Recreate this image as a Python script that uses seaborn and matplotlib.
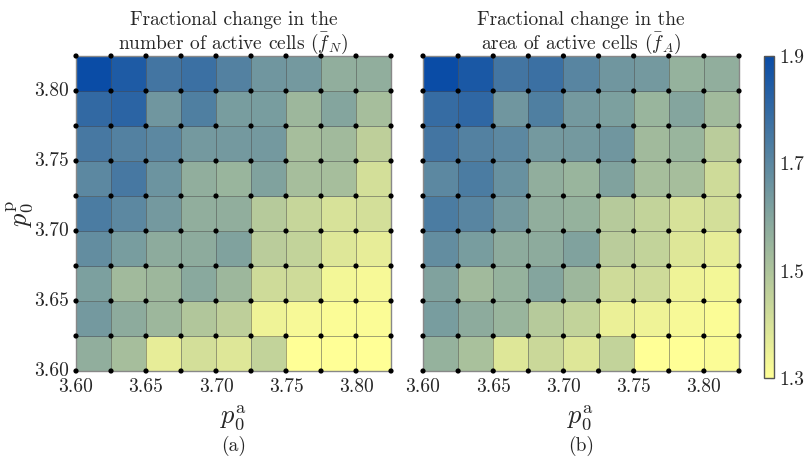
import numpy as np
import pandas as pd
import matplotlib
matplotlib.use("Agg")
import matplotlib.pyplot as plt
from matplotlib.colors import LinearSegmentedColormap
import seaborn as sns

# Parameter grid: cell edges along p0^a (x) and p0^p (y)
pa_edges = [3.600, 3.625, 3.650, 3.675, 3.700, 3.725, 3.750, 3.775, 3.800, 3.825]
pp_edges = [3.600, 3.625, 3.650, 3.675, 3.700, 3.725, 3.750, 3.775, 3.800, 3.825]
tick_values = [3.60, 3.65, 3.70, 3.75, 3.80]
tick_labels = ["3.60", "3.65", "3.70", "3.75", "3.80"]

# Fractional change in the number of active cells; rows run from p0^p = 3.60 upward
f_N = [
    [1.57, 1.52, 1.36, 1.41, 1.38, 1.45, 1.30, 1.30, 1.30],
    [1.64, 1.58, 1.54, 1.49, 1.46, 1.34, 1.32, 1.31, 1.31],
    [1.62, 1.53, 1.54, 1.59, 1.54, 1.42, 1.42, 1.33, 1.32],
    [1.68, 1.63, 1.58, 1.58, 1.61, 1.47, 1.45, 1.38, 1.36],
    [1.74, 1.70, 1.64, 1.57, 1.57, 1.48, 1.44, 1.40, 1.41],
    [1.70, 1.75, 1.66, 1.57, 1.55, 1.61, 1.52, 1.52, 1.41],
    [1.75, 1.72, 1.70, 1.64, 1.64, 1.64, 1.52, 1.53, 1.46],
    [1.80, 1.82, 1.65, 1.73, 1.63, 1.63, 1.54, 1.60, 1.52],
    [1.90, 1.85, 1.76, 1.78, 1.72, 1.65, 1.64, 1.57, 1.57],
]

# Fractional change in the area of active cells
f_A = [
    [1.56, 1.51, 1.38, 1.43, 1.38, 1.45, 1.30, 1.30, 1.31],
    [1.63, 1.58, 1.55, 1.48, 1.45, 1.35, 1.34, 1.32, 1.31],
    [1.61, 1.53, 1.56, 1.60, 1.54, 1.42, 1.42, 1.34, 1.33],
    [1.68, 1.63, 1.58, 1.58, 1.61, 1.47, 1.45, 1.38, 1.36],
    [1.74, 1.71, 1.64, 1.57, 1.56, 1.48, 1.45, 1.40, 1.41],
    [1.70, 1.74, 1.67, 1.57, 1.55, 1.61, 1.52, 1.52, 1.42],
    [1.76, 1.72, 1.70, 1.64, 1.64, 1.65, 1.53, 1.55, 1.47],
    [1.79, 1.81, 1.65, 1.73, 1.64, 1.62, 1.55, 1.60, 1.53],
    [1.90, 1.86, 1.76, 1.78, 1.71, 1.65, 1.64, 1.56, 1.57],
]

titles = ["Fractional change in the\nnumber of active cells $(\\bar{f}_N)$",
          "Fractional change in the\narea of active cells $(\\bar{f}_A)$"]
panel_tags = ["(a)", "(b)"]
vmin, vmax = 1.3, 1.9
cbar_ticks = [1.3, 1.5, 1.7, 1.9]

sns.set_style("white")
plt.rcParams["font.family"] = ["cmr10", "DejaVu Serif"]
plt.rcParams["mathtext.fontset"] = "cm"
plt.rcParams["axes.unicode_minus"] = False
plt.rcParams["axes.formatter.use_mathtext"] = True

cmap = LinearSegmentedColormap.from_list("yellow_blue", ["#ffff96", "#0a4ca6"])

fig = plt.figure(figsize=(8.06, 4.59), dpi=100)
W, H = 806, 459


def fig_rect(x0, y0, x1, y1):
    return [x0 / W, 1 - y1 / H, (x1 - x0) / W, (y1 - y0) / H]


axes = [fig.add_axes(fig_rect(76, 56, 391, 371)),
        fig.add_axes(fig_rect(423, 56, 739, 371))]
cax = fig.add_axes(fig_rect(764, 56, 774, 378))

centers_x = [round((a + b) / 2, 4) for a, b in zip(pa_edges[:-1], pa_edges[1:])]
centers_y = [round((a + b) / 2, 4) for a, b in zip(pp_edges[:-1], pp_edges[1:])]

# index positions of the grid nodes on the heatmap's cell axis
node_x = np.arange(len(pa_edges))
node_y = np.arange(len(pp_edges))
gx, gy = np.meshgrid(node_x, node_y)
nodes = pd.DataFrame({"x": gx.ravel(), "y": gy.ravel()})

step = pa_edges[1] - pa_edges[0]
tick_pos_x = [(v - pa_edges[0]) / step for v in tick_values]
tick_pos_y = [(v - pp_edges[0]) / step for v in tick_values]

for i, (ax, vals) in enumerate(zip(axes, [f_N, f_A])):
    df = pd.DataFrame(vals, index=centers_y, columns=centers_x)
    sns.heatmap(df, ax=ax, cmap=cmap, vmin=vmin, vmax=vmax, cbar=False,
                linewidths=0.7, linecolor=(0.3, 0.3, 0.3, 0.5),
                square=False)
    ax.invert_yaxis()
    sns.scatterplot(data=nodes, x="x", y="y", ax=ax, color="black", s=14,
                    edgecolor="none", clip_on=False, zorder=5, legend=False)
    ax.set_xlim(0, len(pa_edges) - 1)
    ax.set_ylim(0, len(pp_edges) - 1)
    ax.set_xticks(tick_pos_x)
    ax.set_xticklabels(tick_labels, fontsize=14, rotation=0)
    if i == 0:
        ax.set_yticks(tick_pos_y)
        ax.set_yticklabels(tick_labels, fontsize=14, rotation=0)
        ax.set_ylabel("$p_0^{\\mathrm{p}}$", fontsize=19)
        ax.yaxis.set_label_coords(-40 / 315, 0.5)
    else:
        ax.set_yticks([])
        ax.set_ylabel("")
    ax.tick_params(length=0, pad=5)
    ax.set_xlabel("$p_0^{\\mathrm{a}}$", fontsize=19)
    ax.xaxis.set_label_coords(0.5, -32 / 315)
    ax.set_title(titles[i], fontsize=14, linespacing=1.1, pad=5)
    for sp in ax.spines.values():
        sp.set_visible(True)
        sp.set_color("#888888")
        sp.set_linewidth(1.0)
    bb = ax.get_position()
    fig.text(bb.x0 + bb.width / 2, 1 - 446 / H, panel_tags[i],
             ha="center", va="center", fontsize=14)

sm = plt.cm.ScalarMappable(cmap=cmap, norm=plt.Normalize(vmin, vmax))
cb = fig.colorbar(sm, cax=cax, ticks=cbar_ticks)
cb.ax.set_yticklabels(["1.3", "1.5", "1.7", "1.9"], fontsize=14)
cb.ax.tick_params(direction="in", length=3, width=0.8, color="#444444", pad=4)
cb.outline.set_edgecolor("#555555")
cb.outline.set_linewidth(1.0)

fig.savefig("out.png", dpi=100)
